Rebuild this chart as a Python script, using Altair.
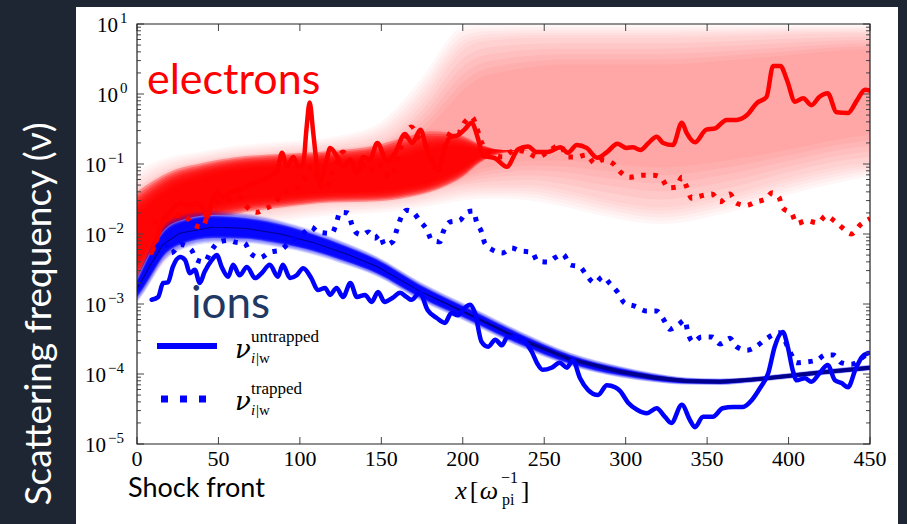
import altair as alt
import pandas as pd

# ---------------- measured series: x in 1/omega_pi, log10 of the scattering frequency ----------------
elec_untr_x = [9, 12, 16, 20, 24, 27, 31, 37, 40, 43, 46, 49, 53, 57, 63, 69, 74, 80, 86, 89, 92, 96, 99, 102,
               104, 106, 108, 109.5, 112, 116.5, 118.5, 123, 126.5, 131, 135, 139, 143, 147.5, 153.5, 158.5,
               164.5, 169, 174, 178, 182, 185, 188, 192, 197, 201, 205.5, 209, 212.5, 220, 227, 234, 240,
               245.5, 252, 260, 264.5, 270, 276, 282.5, 288.5, 295, 300.5, 304.5, 309, 314, 319, 323, 329,
               334.5, 337.5, 342.5, 349.5, 355, 362, 368, 374.5, 380.5, 386.5, 390.5, 395, 399, 404, 409,
               414, 419, 424, 429.5, 436.5, 442, 447, 450]
elec_untr_lg = [-2.27, -2.09, -1.80, -1.70, -1.59, -1.56, -1.59, -1.56, -1.61, -1.76, -1.54, -1.41, -1.47, -1.41,
                -1.37, -1.30, -1.26, -1.19, -1.11, -0.84, -1.04, -0.90, -1.04, -1.01, -0.51, -0.12, -0.51, -0.84,
                -1.27, -0.94, -0.77, -0.90, -1.04, -0.94, -1.13, -0.90, -0.94, -0.70, -0.96, -0.84, -0.57, -0.70,
                -0.51, -0.80, -0.99, -1.09, -0.85, -0.62, -0.59, -0.51, -0.41, -0.61, -0.88, -0.92, -1.04, -0.79,
                -0.75, -0.83, -0.83, -0.76, -0.84, -0.73, -0.77, -0.91, -0.83, -0.71, -0.77, -0.76, -0.80, -0.70,
                -0.61, -0.70, -0.73, -0.41, -0.56, -0.69, -0.51, -0.49, -0.37, -0.37, -0.30, -0.13, -0.04, 0.40,
                0.40, 0.20, -0.11, -0.06, -0.16, -0.04, 0.01, -0.26, -0.27, -0.09, 0.06, 0.05]

elec_trap_x = [10, 16, 22, 29, 34, 40, 45, 50, 57, 63, 67, 73.5, 78.5, 84.5, 89.5, 95, 101, 107, 110, 116.5,
               118.5, 121.5, 126.5, 132, 137, 143, 147, 151, 155, 158.5, 160, 164, 168.5, 172.5, 178, 181.5,
               187, 190, 193, 197, 201, 205.5, 208.5, 210.5, 213.5, 219, 224.5, 232, 239, 246, 251.5, 259.5,
               264.5, 270, 276, 281, 286, 292, 296.5, 302.5, 310, 317, 322, 326, 331, 334.5, 337.5, 340.5,
               345.5, 353, 358, 364, 368, 374, 380, 386, 390, 394, 396.5, 402, 405, 411, 418, 423, 428, 433,
               438.5, 444, 450]
elec_trap_lg = [-1.85, -1.78, -1.74, -1.73, -1.86, -1.90, -1.62, -1.52, -1.50, -1.47, -1.60, -1.69, -1.64, -1.56,
                -1.41, -1.37, -1.30, -1.04, -1.19, -1.37, -1.20, -1.04, -0.83, -1.09, -0.99, -1.11, -0.99, -1.06,
                -1.19, -1.04, -0.90, -0.65, -0.47, -0.61, -0.76, -1.04, -0.94, -0.69, -0.54, -0.56, -0.41, -0.33,
                -0.47, -0.63, -0.77, -0.86, -0.90, -0.80, -0.83, -0.90, -0.84, -0.73, -0.90, -0.90, -0.87, -0.99,
                -0.94, -0.99, -1.11, -1.19, -1.16, -1.16, -1.20, -1.34, -1.33, -1.19, -1.33, -1.49, -1.46, -1.43,
                -1.54, -1.43, -1.56, -1.59, -1.54, -1.50, -1.41, -1.47, -1.63, -1.71, -1.85, -1.81, -1.84, -1.74,
                -1.81, -1.91, -2.00, -1.87, -1.78]

ion_untr_x = [9, 13, 16, 19, 22, 26.5, 29.5, 32.5, 35.5, 38.5, 41.5, 46, 49, 52, 56, 59, 63, 67.5, 72.5, 76.5,
              81.5, 86.5, 89.5, 94, 98, 102, 107, 111, 115.5, 118.5, 122.5, 126.5, 131, 135, 140, 144, 148,
              152, 157, 161.5, 165.5, 168.5, 173.5, 178.5, 184, 189, 193, 197, 201, 204.5, 207.5, 211.5,
              215.5, 220, 224, 227.5, 233, 237, 242.5, 245.5, 249, 254.5, 259.5, 264, 267.5, 272, 277, 283,
              288.5, 293.5, 296.5, 301.5, 307, 313, 319, 324, 328, 334.5, 339.5, 342.5, 347.5, 353.5, 359.5,
              366, 372, 377.5, 382.5, 387.5, 391.5, 396.5, 399.5, 402.5, 405, 410, 414, 419, 424, 428.5,
              432.5, 436.5, 441, 445, 449]
ion_untr_lg = [-2.94, -2.90, -2.70, -2.69, -2.47, -2.33, -2.37, -2.56, -2.51, -2.70, -2.54, -2.37, -2.30, -2.47,
               -2.61, -2.44, -2.59, -2.47, -2.63, -2.56, -2.44, -2.61, -2.44, -2.63, -2.59, -2.49, -2.63, -2.80,
               -2.77, -2.87, -2.77, -2.90, -2.70, -2.90, -2.87, -2.97, -2.83, -2.97, -2.91, -2.84, -2.90, -2.94,
               -2.84, -3.09, -3.20, -3.27, -3.13, -3.16, -3.06, -3.01, -3.13, -3.54, -3.61, -3.51, -3.59, -3.47,
               -3.47, -3.51, -3.69, -3.84, -3.94, -3.91, -3.84, -3.91, -3.80, -4.06, -4.23, -4.30, -4.16, -4.19,
               -4.24, -4.41, -4.51, -4.56, -4.49, -4.61, -4.70, -4.44, -4.66, -4.76, -4.61, -4.61, -4.49, -4.47,
               -4.47, -4.37, -4.20, -3.99, -3.61, -3.40, -3.61, -3.94, -4.09, -4.06, -4.11, -3.99, -3.87, -4.09,
               -4.13, -4.19, -3.94, -3.76, -3.70]

ion_trap_x = [12, 16, 21, 27, 33.5, 36.5, 41.5, 45, 50, 56, 61, 66, 69.5, 75.5, 81.5, 88, 95, 102, 107, 111,
              119.5, 122.5, 124.5, 129.5, 132, 135, 138.5, 142, 146, 149, 152, 157, 159.5, 161.5, 165.5, 169.5,
              173.5, 178, 181, 186, 188, 192, 198, 202.5, 206.5, 208.5, 211.5, 213.5, 218.5, 224.5, 230, 235,
              242.5, 246, 252.5, 256.5, 261.5, 266, 272, 276, 281, 286, 290, 295, 299.5, 305.5, 313, 319, 323,
              327, 332, 336.5, 338, 341.5, 346.5, 353, 358, 364, 368, 374.5, 380.5, 385.5, 390.5, 394.5, 401,
              405, 410, 417.5, 422.5, 427.5, 432.5, 438.5, 442, 445, 449]
ion_trap_lg = [-2.20, -2.11, -2.27, -2.15, -2.23, -2.37, -2.40, -2.26, -2.12, -2.09, -2.12, -2.13, -2.27, -2.34,
               -2.26, -2.23, -2.09, -1.99, -1.90, -1.97, -1.99, -1.84, -1.69, -1.70, -1.87, -1.99, -2.01, -1.97,
               -2.06, -2.01, -2.16, -2.11, -1.94, -1.80, -1.66, -1.69, -1.81, -1.94, -2.09, -2.11, -1.97, -1.83,
               -1.81, -1.69, -1.67, -1.83, -1.97, -2.13, -2.23, -2.27, -2.20, -2.24, -2.26, -2.39, -2.40, -2.34,
               -2.29, -2.44, -2.47, -2.59, -2.70, -2.61, -2.70, -2.83, -2.99, -3.03, -3.10, -3.10, -3.21, -3.36,
               -3.30, -3.23, -3.39, -3.54, -3.47, -3.47, -3.57, -3.49, -3.61, -3.66, -3.60, -3.51, -3.44, -3.41,
               -3.69, -3.84, -3.83, -3.80, -3.73, -3.73, -3.84, -3.86, -3.83, -3.77, -3.71]

# ---------------- electron distribution (log10 limits of shading contours) ----------------
e_band_x = [0, 10, 20, 40, 60, 90, 118, 148, 165, 180, 190, 200, 210, 225, 241, 260, 290, 321, 362, 403, 430, 450]
# broad pale envelope
e_outer_lo = [-3.00, -2.65, -2.35, -2.08, -1.92, -1.82, -1.74, -1.70, -1.66, -1.60, -1.56, -1.52, -1.50, -1.50,
              -1.52, -1.60, -1.76, -1.86, -1.70, -1.42, -1.27, -1.18]
e_outer_hi = [-1.10, -0.98, -0.90, -0.82, -0.74, -0.68, -0.62, -0.42, -0.05, 0.40, 0.75, 0.97, 0.99, 0.99,
              0.99, 0.99, 0.99, 0.99, 0.99, 0.99, 0.99, 0.99]
e_mid_lo = [-2.70, -2.40, -2.12, -1.88, -1.74, -1.64, -1.56, -1.53, -1.49, -1.42, -1.37, -1.33, -1.31, -1.30,
            -1.30, -1.36, -1.52, -1.62, -1.45, -1.18, -1.04, -0.98]
e_mid_hi = [-1.40, -1.22, -1.10, -0.98, -0.90, -0.84, -0.78, -0.66, -0.40, 0.00, 0.35, 0.62, 0.74, 0.78,
            0.80, 0.80, 0.80, 0.80, 0.82, 0.85, 0.86, 0.86]
e_inner_lo = [-2.50, -2.20, -1.95, -1.72, -1.60, -1.50, -1.44, -1.42, -1.38, -1.30, -1.24, -1.16, -1.08, -1.00,
              -0.95, -0.95, -1.00, -1.05, -0.95, -0.78, -0.65, -0.58]
e_inner_hi = [-1.65, -1.45, -1.28, -1.12, -1.02, -0.96, -0.92, -0.85, -0.70, -0.45, -0.20, 0.05, 0.22, 0.32,
              0.38, 0.42, 0.42, 0.42, 0.48, 0.56, 0.62, 0.64]
# saturated region near the shock front, tapering off past x ~ 200
e_soft_lo = [-2.70, -2.38, -2.12, -1.88, -1.74, -1.64, -1.57, -1.55, -1.50, -1.42, -1.33, -1.20, -1.00, -0.85,
             -0.80, -0.80, -0.80, -0.80, -0.80, -0.80, -0.80, -0.80]
e_soft_hi = [-1.35, -1.20, -1.08, -0.96, -0.88, -0.83, -0.79, -0.70, -0.58, -0.50, -0.52, -0.58, -0.70, -0.80,
             -0.80, -0.80, -0.80, -0.80, -0.80, -0.80, -0.80, -0.80]
e_core_lo = [-2.38, -2.10, -1.86, -1.64, -1.53, -1.45, -1.40, -1.38, -1.33, -1.25, -1.16, -1.05, -0.90, -0.80,
             -0.80, -0.80, -0.80, -0.80, -0.80, -0.80, -0.80, -0.80]
e_core_hi = [-1.75, -1.55, -1.38, -1.20, -1.10, -1.04, -1.00, -0.95, -0.90, -0.80, -0.76, -0.76, -0.79, -0.80,
             -0.80, -0.80, -0.80, -0.80, -0.80, -0.80, -0.80, -0.80]

# ---------------- ion distribution: centre (log10), half widths (decades), dark core width (px) ----
i_band_x = [0, 4, 8, 16, 26, 47, 67, 88, 108, 129, 147, 174, 204, 235, 266, 297, 317, 337, 358, 378, 399, 419, 450]
i_centre = [-2.78, -2.62, -2.45, -2.15, -1.99, -1.90, -1.92, -2.00, -2.12, -2.29, -2.46, -2.82, -3.15, -3.50,
            -3.79, -3.97, -4.05, -4.10, -4.11, -4.08, -4.03, -3.98, -3.91]
i_half_outer = [0.20, 0.24, 0.26, 0.27, 0.26, 0.24, 0.22, 0.20, 0.18, 0.165, 0.15, 0.14, 0.13, 0.12, 0.10,
                0.085, 0.07, 0.055, 0.05, 0.045, 0.045, 0.045, 0.045]
i_half_mid = [0.14, 0.17, 0.19, 0.19, 0.18, 0.17, 0.16, 0.15, 0.13, 0.12, 0.11, 0.10, 0.09, 0.085, 0.07,
              0.06, 0.05, 0.04, 0.035, 0.03, 0.03, 0.03, 0.03]
i_half_core = [0.07, 0.10, 0.12, 0.13, 0.13, 0.12, 0.115, 0.105, 0.095, 0.085, 0.075, 0.065, 0.055, 0.05, 0.04,
               0.03, 0.025, 0.02, 0.02, 0.02, 0.02, 0.02, 0.02]
i_dark_px = [0, 0, 0, 0, 0, 0, 0, 0, 0, 0, 0, 1.0, 2.0, 3.0, 3.5, 4.0, 4.0, 4.0, 4.0, 4.0, 4.0, 4.0, 4.0]

# ---------------- axis ticks ----------------
x_ticks = [0, 50, 100, 150, 200, 250, 300, 350, 400, 450]
y_decades = [1e-5, 1e-4, 1e-3, 1e-2, 1e-1, 1e0, 1e1]
y_exponents = ["\u22125", "\u22124", "\u22123", "\u22122", "\u22121", "0", "1"]
y_minor = [m * d for d in y_decades[:-1] for m in range(2, 10)]

W, H = 733, 420
RED, BLUE, NAVY = "#ff0000", "#0000ff", "#000080"
SERIF = "Liberation Serif"
MATH = "DejaVu Serif"
SANS = "Lato"

xs = alt.Scale(domain=[0, 450], nice=False, zero=False)
ys = alt.Scale(type="log", domain=[1e-5, 10], nice=False)


def curve(xv, lg):
    return pd.DataFrame({"x": xv, "nu": [10 ** v for v in lg]})


def band(xv, lo, hi):
    return pd.DataFrame({"x": xv, "lo": [10 ** v for v in lo], "hi": [10 ** v for v in hi]})


def area(df, color, opacity):
    return alt.Chart(df).mark_area(color=color, opacity=opacity, clip=True, interpolate="monotone").encode(
        x=alt.X("x:Q", scale=xs, axis=None),
        y=alt.Y("lo:Q", scale=ys, axis=None),
        y2="hi:Q",
    )


def shaded(xv, contours, alphas, steps, color):
    """Soft density shading: nested contours (outer -> inner), each reaching a cumulative opacity,
    blended with a number of thin steps in between."""
    layers = []
    lo0, hi0 = contours[0]
    layers.append(area(band(xv, lo0, hi0), color, alphas[0]))
    for j in range(1, len(contours)):
        plo, phi = contours[j - 1]
        lo, hi = contours[j]
        op = 1 - ((1 - alphas[j]) / (1 - alphas[j - 1])) ** (1 / steps)
        for k in range(1, steps + 1):
            t = k / steps
            l = [a + (b - a) * t for a, b in zip(plo, lo)]
            h = [a + (b - a) * t for a, b in zip(phi, hi)]
            layers.append(area(band(xv, l, h), color, op))
    return layers


def line(df, color, dashed):
    kw = dict(color=color, strokeWidth=4.5, interpolate="monotone", clip=True)
    if dashed:
        kw.update(strokeDash=[4.5, 7.5], strokeCap="butt", strokeWidth=5)
    else:
        kw.update(strokeCap="round", strokeJoin="round")
    return alt.Chart(df).mark_line(**kw).encode(
        x=alt.X("x:Q", scale=xs, axis=None),
        y=alt.Y("nu:Q", scale=ys, axis=None),
    )


one = pd.DataFrame({"k": [0]})


def label(text, px, py, size, font, color="black", align="left", baseline="middle", style="normal", angle=0):
    kw = dict(text=text, fontSize=size, font=font, color=color, align=align, baseline=baseline, fontStyle=style)
    if angle:
        kw["angle"] = angle
    return alt.Chart(one).mark_text(**kw).encode(x=alt.value(px - 137), y=alt.value(py - 24))


# white slide panel behind the figure
panel = alt.Chart(one).mark_rect(color="white").encode(
    x=alt.value(76 - 137), x2=alt.value(898 - 137), y=alt.value(7 - 24), y2=alt.value(540 - 24)
)

# electron shading: pale envelope, then the saturated part near the front
e_layers = shaded(e_band_x,
                  [(e_outer_lo, e_outer_hi), (e_mid_lo, e_mid_hi), (e_inner_lo, e_inner_hi)],
                  [0.03, 0.17, 0.33], 5, RED)
e_layers += shaded(e_band_x, [(e_soft_lo, e_soft_hi), (e_core_lo, e_core_hi)], [0.04, 0.97], 9, RED)


# ion shading, laid over a whitened footprint so it is not tinted by the electron band
def ion_contour(half):
    return ([c - h for c, h in zip(i_centre, half)], [c + h for c, h in zip(i_centre, half)])

i_under = area(band(i_band_x, *ion_contour(i_half_mid)), "white", 0.75)
i_layers = shaded(i_band_x, [ion_contour(i_half_outer), ion_contour(i_half_mid), ion_contour(i_half_core)],
                  [0.06, 0.5, 0.97], 4, BLUE)
i_dark = alt.Chart(pd.DataFrame({"x": i_band_x, "nu": [10 ** v for v in i_centre], "w": i_dark_px})).mark_trail(
    color=NAVY, clip=True, opacity=0.9
).encode(
    x=alt.X("x:Q", scale=xs, axis=None),
    y=alt.Y("nu:Q", scale=ys, axis=None),
    size=alt.Size("w:Q", scale=None, legend=None),
)

curves = [
    line(curve(elec_untr_x, elec_untr_lg), RED, False),
    line(curve(elec_trap_x, elec_trap_lg), RED, True),
    line(curve(ion_trap_x, ion_trap_lg), BLUE, True),
    line(curve(ion_untr_x, ion_untr_lg), BLUE, False),
]

# ticks on all four sides, pointing inward
xt = pd.DataFrame({"x": x_ticks})
x_tick_marks = [
    alt.Chart(xt).mark_rule(color="#444", strokeWidth=1).encode(
        x=alt.X("x:Q", scale=xs, axis=None), y=alt.value(y0), y2=alt.value(y1))
    for y0, y1 in [(0, 7), (H, H - 7)]
]
yt = pd.DataFrame({"nu": y_decades, "e": y_exponents})
ym = pd.DataFrame({"nu": y_minor})
y_tick_marks = []
for df, ln in [(yt, 7), (ym, 4)]:
    for x0, x1 in [(0, ln), (W, W - ln)]:
        y_tick_marks.append(
            alt.Chart(df).mark_rule(color="#444", strokeWidth=1).encode(
                y=alt.Y("nu:Q", scale=ys, axis=None), x=alt.value(x0), x2=alt.value(x1)))

frame = alt.Chart(one).mark_rect(filled=False, stroke="#222", strokeWidth=1.2).encode(
    x=alt.value(0), x2=alt.value(W), y=alt.value(0), y2=alt.value(H)
)

# tick labels
x_labels = alt.Chart(xt).mark_text(font=SERIF, fontSize=22, baseline="middle", align="center").encode(
    x=alt.X("x:Q", scale=xs, axis=None), y=alt.value(459 - 24), text=alt.Text("x:Q", format="d")
)
y_labels = []
for neg, base_x, exp_x in [(True, 106, 108), (False, 118, 120)]:
    sub = yt[yt["e"].str.startswith("\u2212") == neg]
    y_labels.append(alt.Chart(sub).mark_text(font=SERIF, fontSize=21, baseline="middle", align="right", dy=2).encode(
        y=alt.Y("nu:Q", scale=ys, axis=None), x=alt.value(base_x - 137), text=alt.value("10")))
    y_labels.append(alt.Chart(sub).mark_text(font=SERIF, fontSize=15, baseline="middle", align="left", dy=-6).encode(
        y=alt.Y("nu:Q", scale=ys, axis=None), x=alt.value(exp_x - 137), text="e:N"))

texts = [
    label("electrons", 147, 94, 43, SANS, RED, baseline="alphabetic"),
    label("ions", 191, 318, 44, SANS, "#203864", baseline="alphabetic"),
    label("Shock front", 128, 497, 27, SANS, "black", baseline="alphabetic"),
    label("Scattering frequency (\u03bd)", 40, 314, 37, SANS, "white", align="center", angle=270),
    # x axis title: x [omega_pi^-1]
    label("x", 461, 491, 26, SERIF, align="center", style="italic"),
    label("[", 474, 491, 26, SERIF, align="center"),
    label("\u03c9", 489, 491, 26, SERIF, align="center", style="italic"),
    label("\u22121", 501, 478, 16, SERIF),
    label("pi", 502, 500, 16, SERIF),
    label("]", 525, 491, 26, SERIF, align="center"),
    # legend
    label("\u03bd", 243, 350, 26, MATH, align="center", style="italic"),
    label("untrapped", 251, 337, 17, SERIF),
    label("i", 251, 358, 15, SERIF, style="italic"),
    label("|w", 256, 358, 15, SERIF),
    label("\u03bd", 243, 402, 26, MATH, align="center", style="italic"),
    label("trapped", 251, 389, 17, SERIF),
    label("i", 251, 410, 15, SERIF, style="italic"),
    label("|w", 256, 410, 15, SERIF),
]

legend_marks = [
    alt.Chart(one).mark_rule(color=BLUE, strokeWidth=6).encode(
        x=alt.value(157 - 137), x2=alt.value(217 - 137), y=alt.value(346 - 24)),
    alt.Chart(one).mark_rule(color=BLUE, strokeWidth=7, strokeDash=[7, 12]).encode(
        x=alt.value(161 - 137), x2=alt.value(207 - 137), y=alt.value(399 - 24)),
]

chart = alt.layer(
    panel, *e_layers, i_under, *i_layers, i_dark, *curves, *x_tick_marks, *y_tick_marks, frame,
    x_labels, *y_labels, *legend_marks, *texts
).properties(
    width=W, height=H,
    autosize=alt.AutoSizeParams(type="none"),
    padding={"left": 137, "top": 24, "right": 907 - 137 - W, "bottom": 524 - 24 - H},
    background="#1f2633",
).configure_view(stroke=None)

chart.save("out.html", embed_options={"renderer": "svg", "actions": False})
